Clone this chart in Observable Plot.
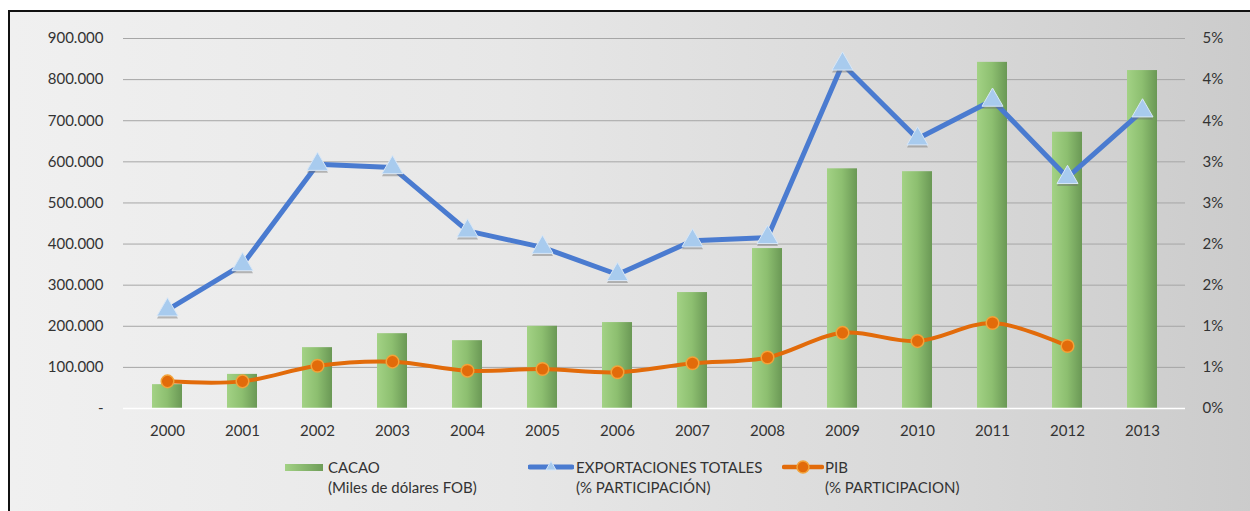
<!DOCTYPE html>
<html>
<head>
<meta charset="utf-8">
<script src="https://cdn.jsdelivr.net/npm/d3@7"></script>
<script src="https://cdn.jsdelivr.net/npm/@observablehq/plot@0.6"></script>
<style>
  html, body { margin: 0; padding: 0; background: #fff; width: 1250px; height: 511px; overflow: hidden; }
  #frame { position: absolute; left: 8px; top: 10px; width: 1250px; height: 510px;
    border-left: 2px solid #111; border-top: 2px solid #111;
    background: linear-gradient(to right, #f0f0f0 0%, #e7e7e7 40%, #d8d8d8 75%, #cbcbcb 100%); }
  #chart { position: absolute; left: 0; top: 0; }
  .leg { position: absolute; font-family: Lato, "Liberation Sans", sans-serif; font-size: 15px; color: #333; line-height: 20px; white-space: nowrap; }
  .sw { position: absolute; }
</style>
</head>
<body>
<div id="frame"></div>
<div id="chart"></div>
<svg class="sw" style="left:285px;top:464px" width="38" height="7">
  <defs><linearGradient id="lg0" x1="0" x2="1" y1="0" y2="0"><stop offset="0" stop-color="#a2d184"/><stop offset="1" stop-color="#6e9d58"/></linearGradient></defs>
  <rect x="0" y="0" width="38" height="7" fill="url(#lg0)"/>
</svg>
<div class="leg" style="left:328px;top:457px">CACAO<br>(Miles de dólares FOB)</div>
<svg class="sw" style="left:528px;top:458px" width="46" height="18">
  <line x1="2" x2="44" y1="9" y2="9" stroke="#4a7bd0" stroke-width="5" stroke-linecap="round"/>
  <path d="M23,3 L28,12 L18,12 Z" fill="#a8cbee" stroke="#d6e6f7" stroke-width="1"/>
</svg>
<div class="leg" style="left:576px;top:457px">EXPORTACIONES TOTALES<br>(% PARTICIPACIÓN)</div>
<svg class="sw" style="left:782px;top:458px" width="42" height="18">
  <line x1="2" x2="40" y1="9" y2="9" stroke="#e26b0a" stroke-width="4.5" stroke-linecap="round"/>
  <circle cx="21" cy="9" r="6" fill="#e26b0a" stroke="#f2a33a" stroke-width="1.5"/>
</svg>
<div class="leg" style="left:825px;top:457px">PIB<br>(% PARTICIPACION)</div>
<script>
const years = ["2000","2001","2002","2003","2004","2005","2006","2007","2008","2009","2010","2011","2012","2013"];
const cacao = [58000, 83000, 148000, 182000, 165000, 200000, 209000, 282000, 389000, 583000, 576000, 842000, 672000, 822000];
const exportPct = [1.20, 1.75, 2.97, 2.93, 2.16, 1.96, 1.63, 2.04, 2.08, 4.19, 3.28, 3.75, 2.81, 3.62];
const pibPct = [0.33, 0.33, 0.52, 0.57, 0.46, 0.48, 0.44, 0.55, 0.62, 0.92, 0.82, 1.04, 0.76, null];
const leftTicks = [0, 100000, 200000, 300000, 400000, 500000, 600000, 700000, 800000, 900000];
const leftLabels = ["-", "100.000", "200.000", "300.000", "400.000", "500.000", "600.000", "700.000", "800.000", "900.000"];
const rightLabels = ["0%", "1%", "1%", "2%", "2%", "3%", "3%", "4%", "4%", "5%"];
const rightMaxPct = 4.5; // right axis top (%) aligned with left axis top

const leftMax = leftTicks[leftTicks.length - 1];
const k = leftMax / rightMaxPct;
const data = years.map((y, i) => ({year: y, cacao: cacao[i], exp: exportPct[i] * k, pib: pibPct[i] == null ? null : pibPct[i] * k}));
const pibData = data.filter(d => d.pib != null);

const chart = Plot.plot({
  width: 1250, height: 440,
  marginTop: 38, marginBottom: 32, marginLeft: 123, marginRight: 65,
  style: {background: "transparent", fontFamily: "Lato, 'Liberation Sans', sans-serif", fontSize: "15px", color: "#333"},
  x: {type: "band", domain: years, paddingInner: 0.6, paddingOuter: 0.3},
  y: {domain: [0, leftMax]},
  marks: [
    Plot.gridY(leftTicks.slice(1), {stroke: "#a6a6a6", strokeOpacity: 1, strokeWidth: 1}),
    Plot.barY(data, {x: "year", y: "cacao", fill: "url(#barGrad)"}),
    Plot.ruleY([0], {stroke: "#ffffff", strokeWidth: 1.5}),
    Plot.axisY({ticks: leftTicks, tickFormat: d => leftLabels[leftTicks.indexOf(d)], tickSize: 0, tickPadding: 20, label: null, fill: "#333"}),
    Plot.axisY({anchor: "right", ticks: leftTicks, tickFormat: d => rightLabels[leftTicks.indexOf(d)], tickSize: 0, tickPadding: 17, label: null, fill: "#333"}),
    Plot.axisX({tickSize: 0, tickPadding: 17, label: null, fill: "#333"}),
    Plot.line(data, {x: "year", y: "exp", stroke: "#4a7bd0", strokeWidth: 5}),
    Plot.dot(data, {x: "year", y: "exp", symbol: "triangle", r: 7.8, fill: "#6f6f6f", fillOpacity: 0.45, dy: 2.5}),
    Plot.dot(data, {x: "year", y: "exp", symbol: "triangle", r: 7.8, fill: "#a8cbee", stroke: "#d8e7f7", strokeWidth: 1}),
    Plot.line(pibData, {x: "year", y: "pib", stroke: "#e26b0a", strokeWidth: 4, curve: "catmull-rom"}),
    Plot.dot(pibData, {x: "year", y: "pib", r: 6.3, fill: "#e26b0a", stroke: "#f2a33a", strokeWidth: 1.5})
  ]
});

const defs = d3.select(chart).insert("defs", ":first-child");
const g = defs.append("linearGradient").attr("id", "barGrad").attr("x1", 0).attr("x2", 1).attr("y1", 0).attr("y2", 0);
g.append("stop").attr("offset", 0).attr("stop-color", "#a3d285");
g.append("stop").attr("offset", 0.5).attr("stop-color", "#8dbf70");
g.append("stop").attr("offset", 1).attr("stop-color", "#6a9855");
document.getElementById("chart").appendChild(chart);
</script>
</body>
</html>
